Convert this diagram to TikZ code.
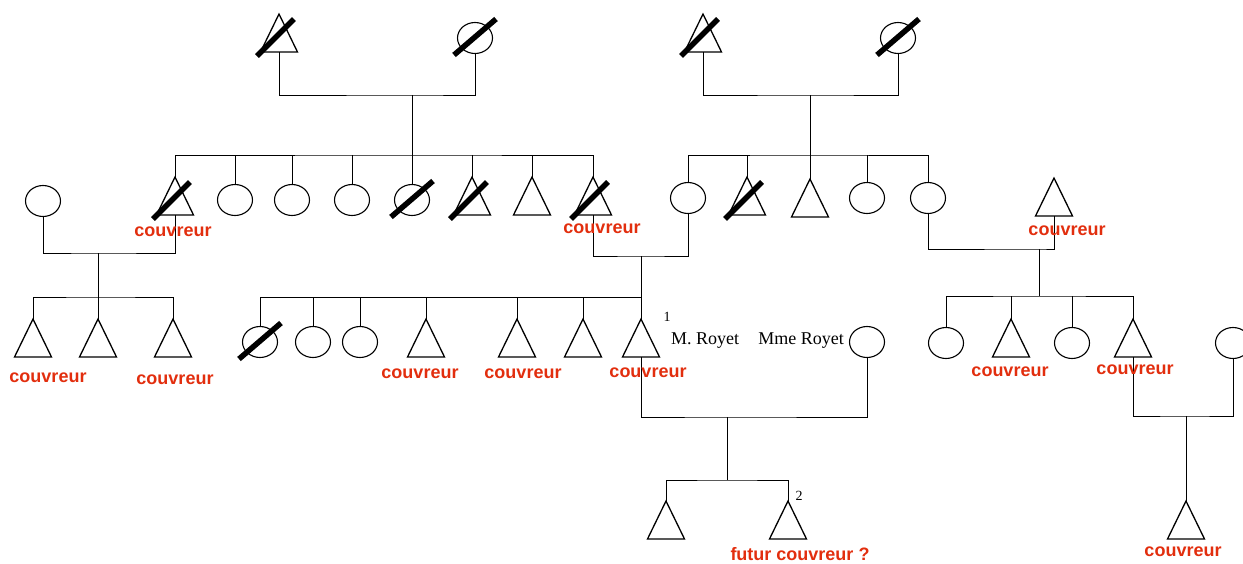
\documentclass[tikz,border=0pt]{standalone}
\usepackage{fontspec}
\setmainfont{Liberation Serif}
\newfontfamily\arialfont{Liberation Sans}
\usetikzlibrary{shapes.geometric}
\definecolor{jobred}{RGB}{226,46,14}

\begin{document}
\begin{tikzpicture}[x=1pt, y=-1pt, line width=1pt,
        male/.style={inner sep=0pt, minimum width=36pt, minimum height=37pt},
        female/.style={ellipse, draw, line width=1.1pt, inner sep=0pt, minimum width=35pt, minimum height=31pt},
        job/.style={font=\arialfont\bfseries\fontsize{18}{18}\selectfont, text=jobred, inner sep=0pt},
        royet/.style={font=\fontsize{18}{18}\selectfont, inner sep=0pt},
        idnum/.style={font=\fontsize{14}{14}\selectfont, inner sep=0pt},
        deadbar/.style={line width=5.5pt}]

    \useasboundingbox (0,0) rectangle (1243,563);

    % grandparents
    \node[male] (p1) at (279,33) {};
    \node[female] (p2) at (475,38) {};
    \node[male] (p3) at (703,33) {};
    \node[female] (p4) at (898,38) {};

    % left family, generation 2
    \node[female] (w0) at (43,201) {};
    \node[male] (a1) at (175,196) {};
    \node[female] (a2) at (235,200) {};
    \node[female] (a3) at (292,200) {};
    \node[female] (a4) at (352,200) {};
    \node[female] (a5) at (412,200) {};
    \node[male] (a6) at (472,196) {};
    \node[male] (a7) at (532,196) {};
    \node[male] (a8) at (593,196) {};

    % right family, generation 2
    \node[female] (b1) at (688,198) {};
    \node[male] (b2) at (747,196) {};
    \node[male] (b3) at (810,198) {};
    \node[female] (b4) at (867,198) {};
    \node[female] (b5) at (928,198) {};
    \node[male] (r1) at (1054,197) {};

    % generation 3
    \node[male] (c1) at (33,338) {};
    \node[male] (c2) at (98,338) {};
    \node[male] (c3) at (173,338) {};
    \node[female] (d1) at (260,342) {};
    \node[female] (d2) at (313,342) {};
    \node[female] (d3) at (360,342) {};
    \node[male] (d4) at (426,338) {};
    \node[male] (d5) at (517,338) {};
    \node[male] (d6) at (583,338) {};
    \node[male] (d7) at (641,338) {};
    \node[female] (wr) at (867,342) {};
    \node[female] (e1) at (946,343) {};
    \node[male] (e2) at (1011,338) {};
    \node[female] (e3) at (1072,343) {};
    \node[male] (e4) at (1133,338) {};
    \node[female] (e5) at (1233,343) {};

    % generation 4
    \node[male] (k1) at (666,520) {};
    \node[male] (k2) at (788,520) {};
    \node[male] (f1) at (1186,520) {};

    \foreach \n in {p1,p3,a1,a6,a7,a8,b2,b3,r1,c1,c2,c3,d4,d5,d6,d7,e2,e4,k1,k2,f1}
        \draw[line width=1.3pt] (\n.south west) -- (\n.north) -- (\n.south east) -- cycle;

    % dead
    \foreach \n in {p1,p3,a1,a6,a8,b2}
        \draw[deadbar] (\n.center) ++(-22,23) -- ++(37,-37);
    \foreach \n in {p2,p4,a5,d1}
        \draw[deadbar] (\n.center) ++(-21,17) -- ++(42,-36);

    % marriages and siblings
    \coordinate (m1) at (412,95);
    \coordinate (s1) at (412,155);
    \draw (p1.south) |- (m1) -| (p2.south);
    \draw (m1) -- (a5.north);
    \draw (a1.north) |- (s1) -| (a8.north);
    \foreach \n in {a2,a3,a4,a6,a7}
        \draw (\n.north) -- (\n.north |- s1);

    \coordinate (m2) at (810,95);
    \coordinate (s2) at (810,155);
    \draw (p3.south) |- (m2) -| (p4.south);
    \draw (m2) -- (b3.north);
    \draw (b1.north) |- (s2) -| (b5.north);
    \foreach \n in {b2,b4}
        \draw (\n.north) -- (\n.north |- s2);

    \coordinate (m3) at (98,253);
    \coordinate (s3) at (98,297);
    \draw (w0.south) |- (m3) -| (a1.south);
    \draw (m3) -- (c2.north);
    \draw (c1.north) |- (s3) -| (c3.north);

    \coordinate (m4) at (641,256);
    \coordinate (s4) at (641,297);
    \draw (a8.south) |- (m4) -| (b1.south);
    \draw (m4) -- (d7.north);
    \draw (d1.north) |- (s4);
    \foreach \n in {d2,d3,d4,d5,d6}
        \draw (\n.north) -- (\n.north |- s4);

    \coordinate (m5) at (1039,249);
    \coordinate (s5) at (1039,296);
    \draw (b5.south) |- (m5) -| (r1.south);
    \draw (m5) -- (s5);
    \draw (e1.north) |- (s5) -| (e4.north);
    \foreach \n in {e2,e3}
        \draw (\n.north) -- (\n.north |- s5);

    \coordinate (m6) at (1186,416);
    \draw (e4.south) |- (m6) -| (e5.south);
    \draw (m6) -- (f1.north);

    \coordinate (m7) at (727,417);
    \coordinate (s7) at (727,480);
    \draw (d7.south) |- (m7) -| (wr.south);
    \draw (m7) -- (s7);
    \draw (k1.north) |- (s7) -| (k2.north);

    % texts
    \node[job] (ja1) at (173,232) {couvreur};
    \node[job] (ja8) at (602,229) {couvreur};
    \node[job] (jr1) at (1067,231) {couvreur};
    \node[job] (jc1) at (48,378) {couvreur};
    \node[job] (jc3) at (175,380) {couvreur};
    \node[job] (jd4) at (420,374) {couvreur};
    \node[job] (jd5) at (523,374) {couvreur};
    \node[job] (jd7) at (648,373) {couvreur};
    \node[job] (je2) at (1010,372) {couvreur};
    \node[job] (je4) at (1135,370) {couvreur};
    \node[job] (jf1) at (1183,552) {couvreur};
    \node[job] (jk2) at (800,554) {futur couvreur ?};

    \node[idnum] (n1) at (667,317) {1};
    \node[idnum] (n2) at (799,496) {2};
    \node[royet] (mr) at (705,341) {M. Royet};
    \node[royet] (mme) at (801,341) {Mme Royet};
\end{tikzpicture}
\end{document}
